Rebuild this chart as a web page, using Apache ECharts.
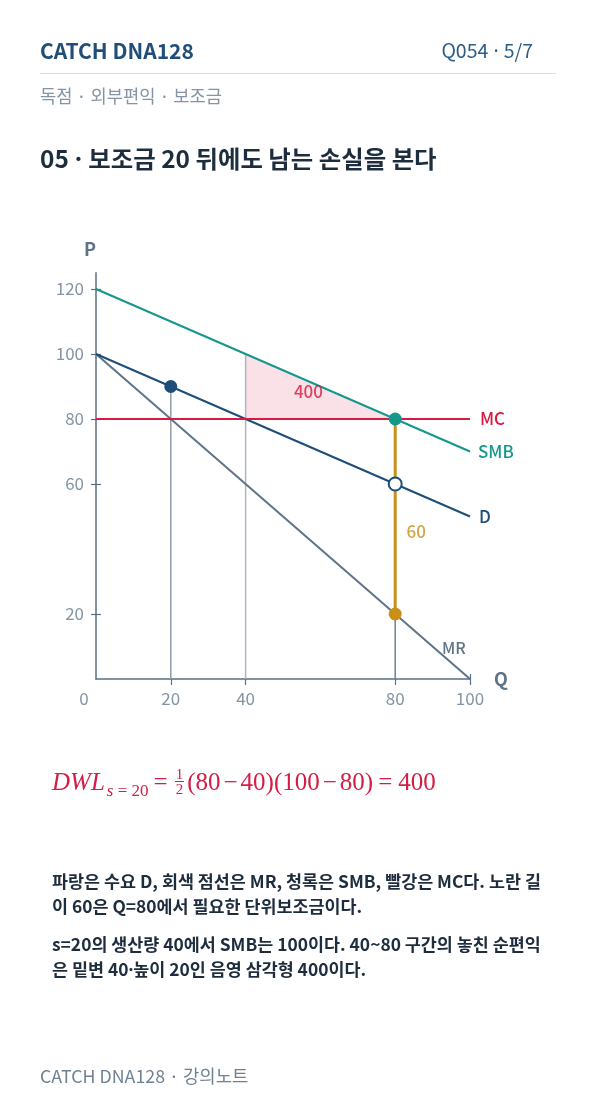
<!DOCTYPE html>
<html>
<head>
<meta charset="utf-8">
<script src="https://cdn.jsdelivr.net/npm/echarts@6/dist/echarts.min.js"></script>
<style>
  html, body { margin:0; padding:0; background:#ffffff; }
  body { width:596px; height:1106px; position:relative; overflow:hidden;
         font-family:"Noto Sans CJK KR","Noto Sans",sans-serif; }
  #chart { position:absolute; left:0; top:0; width:596px; height:1106px; }
  .t { position:absolute; white-space:nowrap; }
  .d { font-family:"Noto Sans",sans-serif; }
  .hdr { left:40px; top:35px; line-height:30px; font-size:21px; font-weight:700; color:#1f4e79; }
  .pg { right:63px; top:35px; line-height:30px; font-size:19.5px; color:#2b5c8a; }
  .rule { position:absolute; left:40px; top:73px; width:516px; height:1px; background:#d3dfea; }
  .sub { left:40px; top:82px; line-height:26px; font-size:17.7px; color:#8494a5; }
  .title { left:40px; top:141px; line-height:34px; font-size:24.4px; font-weight:700; color:#1e2d3d; }
  .fx { left:52px; top:763px; line-height:38px; font-size:25px; color:#d31e45;
        font-family:"Liberation Serif","DejaVu Serif",serif; }
  .fx i { font-style:italic; }
  .fx .sb { font-size:17px; position:relative; top:6px; margin-left:2px; font-family:"Liberation Serif",serif; }
  .fx .op { margin:0 3px; }
  .fx .eq { margin:0 6px 0 5px; }
  .frac { display:inline-block; vertical-align:middle; text-align:center; font-size:15px; line-height:14px; margin:0 3px 0 1px; position:relative; top:-3px;}
  .frac span { display:block; }
  .frac .n { border-bottom:1px solid #d31e45; padding:0 1px; }
  .p { left:52px; line-height:25px; font-size:17.4px; font-weight:700; color:#1e2d3d; }
  .foot { left:40px; top:1062px; line-height:26px; font-size:17.8px; color:#6f8294; }
</style>
</head>
<body>
<div id="chart"></div>
<div class="t hdr">CATCH DNA128</div>
<div class="t pg">Q054<span class="d"> · </span>5/7</div>
<div class="rule"></div>
<div class="t sub">독점 · 외부편익 · 보조금</div>
<div class="t title">05<span class="d"> · </span>보조금 20 뒤에도 남는 손실을 본다</div>
<div class="t fx"><i>DWL</i><span class="sb"><i>s</i> = 20</span><span class="eq">=</span><span class="frac"><span class="n">1</span><span>2</span></span>(80<span class="op">−</span>40)(100<span class="op">−</span>80)<span class="eq">=</span>400</div>
<div class="t p" style="top:868px">파랑은 수요 D, 회색 점선은 MR, 청록은 SMB, 빨강은 MC다. 노란 길</div>
<div class="t p" style="top:893px">이 60은 Q=80에서 필요한 단위보조금이다.</div>
<div class="t p" style="top:931px">s=20의 생산량 40에서 SMB는 100이다. 40~80 구간의 놓친 순편익</div>
<div class="t p" style="top:956px">은 밑변 40<span class="d">·</span>높이 20인 음영 삼각형 400이다.</div>
<div class="t foot">CATCH DNA128 · 강의노트</div>
<script>
// ---- data ----
const qLabels = [0, 20, 40, 80, 100];
const qTickValues = [20, 40, 80, 100];
const pLabels = [20, 60, 80, 100, 120];
const smbLine = [[0, 120], [100, 70]];
const demandLine = [[0, 100], [100, 50]];
const mrLine = [[0, 100], [100, 0]];
const mcLine = [[0, 80], [100, 80]];
const subsidyLine = [[80, 80], [80, 20]];
const dwlTriangle = [[40, 100], [40, 80], [80, 80]];
const guideQ20 = [[20, 90], [20, 0]];
const guideQ40 = [[40, 100], [40, 0]];
const guideQ80 = [[80, 20], [80, 0]];
const monopolyPoint = [[20, 90]];
const optimumPoint = [[80, 80]];
const demandAtOpt = [[80, 60]];
const mrAtOpt = [[80, 20]];
const dwlText = '400';
const subsidyText = '60';

const C = {
  axis:'#5b6f84', label:'#8494a5', teal:'#14978c', navy:'#1d4e7a', slate:'#5f7387',
  red:'#d61a40', ochre:'#c98f17', fill:'#f9e1e7', g1:'#8d9cac', g2:'#a9b5c1', g3:'#6e8295'
};
const FONT = '"Noto Sans CJK KR","Noto Sans",sans-serif';
const centroid = [
  (dwlTriangle[0][0]+dwlTriangle[1][0]+dwlTriangle[2][0])/3,
  (dwlTriangle[0][1]+dwlTriangle[1][1]+dwlTriangle[2][1])/3
];
const mid = [(subsidyLine[0][0]+subsidyLine[1][0])/2,(subsidyLine[0][1]+subsidyLine[1][1])/2];

function guide(d, color){
  return {type:'line', data:d, xAxisIndex:0, yAxisIndex:0, symbol:'none', silent:true, z:2,
          lineStyle:{color:color, width:1.5}};
}
function curve(d, color, name, w, endLabel){
  return {type:'line', name:name, data:d, symbol:'none', silent:true, z:4,
          lineStyle:{color:color, width:w||2},
          endLabel: Object.assign({show:true, formatter:name, color:color, fontSize:17, fontWeight:500, fontFamily:FONT}, endLabel||{})};
}
function dot(d, fill, border){
  return {type:'scatter', data:d, symbol:'circle', symbolSize:13, z:10, silent:true,
          itemStyle:{color:fill, opacity:1, borderColor:border||fill, borderWidth:border?2:0}};
}

const chart = echarts.init(document.getElementById('chart'), null, {renderer:'canvas'});
chart.setOption({
  animation:false,
  backgroundColor:'transparent',
  grid:{left:96, top:272.75, width:374, height:406.25, containLabel:false},
  xAxis:[{
    type:'value', min:0, max:100, interval:20,
    name:'Q', nameLocation:'end', nameGap:24,
    nameTextStyle:{color:C.slate, fontSize:18, fontWeight:600, fontFamily:FONT, padding:[0,0,24,0]},
    axisLine:{lineStyle:{color:C.axis, width:1.5}},
    axisTick:{show:true, customValues:qTickValues, length:6, lineStyle:{color:C.axis, width:1.2}},
    axisLabel:{customValues:qLabels, margin:11, color:C.label, fontSize:17, fontFamily:FONT,
      formatter:v=> v===0 ? '{o|0}' : String(v),
      rich:{o:{padding:[0,24,0,0], color:C.label, fontSize:17, fontFamily:FONT}}},
    splitLine:{show:false}
  },{
    type:'value', min:0, max:100, interval:20, position:'bottom',
    axisLine:{show:false},
    axisTick:{show:true, inside:true, customValues:[100], length:5, lineStyle:{color:C.axis, width:1.2}},
    axisLabel:{show:false}, splitLine:{show:false}
  }],
  yAxis:[{
    type:'value', min:0, max:125, interval:20,
    name:'P', nameLocation:'end', nameGap:15,
    nameTextStyle:{color:C.slate, fontSize:18, fontWeight:600, fontFamily:FONT, padding:[0,12,0,0]},
    axisLine:{show:true, lineStyle:{color:C.axis, width:1.5}},
    axisTick:{show:true, customValues:pLabels, length:5, lineStyle:{color:C.axis, width:1.2}},
    axisLabel:{customValues:pLabels, margin:12, color:C.label, fontSize:17, fontFamily:FONT},
    splitLine:{show:false}
  },{
    type:'value', min:0, max:125, interval:20, position:'left', offset:0,
    axisLine:{show:false},
    axisTick:{show:true, inside:true, customValues:pLabels, length:5, lineStyle:{color:C.axis, width:1.2}},
    axisLabel:{show:false}, splitLine:{show:false}
  }],
  series:[
    {type:'custom', silent:true, z:1, data:[0],
     renderItem:(params, api)=>({type:'polygon',
        shape:{points:dwlTriangle.map(p=>api.coord(p))},
        style:{fill:C.fill}})},
    guide(guideQ20, C.g1),
    guide(guideQ40, C.g2),
    guide(guideQ80, C.g3),
    curve(mrLine, C.slate, 'MR', 2, {fontSize:16, fontWeight:500, offset:[-36,-31]}),
    curve(demandLine, C.navy, 'D', 2, {distance:9}),
    curve(smbLine, C.teal, 'SMB', 2, {distance:8}),
    curve(mcLine, C.red, 'MC', 2, {distance:10}),
    {type:'line', data:subsidyLine, symbol:'none', silent:true, z:5, lineStyle:{color:C.ochre, width:3}},
    {type:'scatter', data:[centroid], symbolSize:0, silent:true, z:6,
     label:{show:true, formatter:dwlText, color:C.red, fontSize:17, fontWeight:500, fontFamily:FONT, offset:[13,-6]}},
    {type:'scatter', data:[mid], symbolSize:0, silent:true, z:6,
     label:{show:true, formatter:subsidyText, color:C.ochre, fontSize:17, fontWeight:500, fontFamily:FONT, offset:[21,15]}},
    dot(monopolyPoint, C.navy),
    dot(optimumPoint, C.teal),
    dot(demandAtOpt, '#ffffff', C.navy),
    dot(mrAtOpt, C.ochre)
  ]
});
</script>
</body>
</html>
